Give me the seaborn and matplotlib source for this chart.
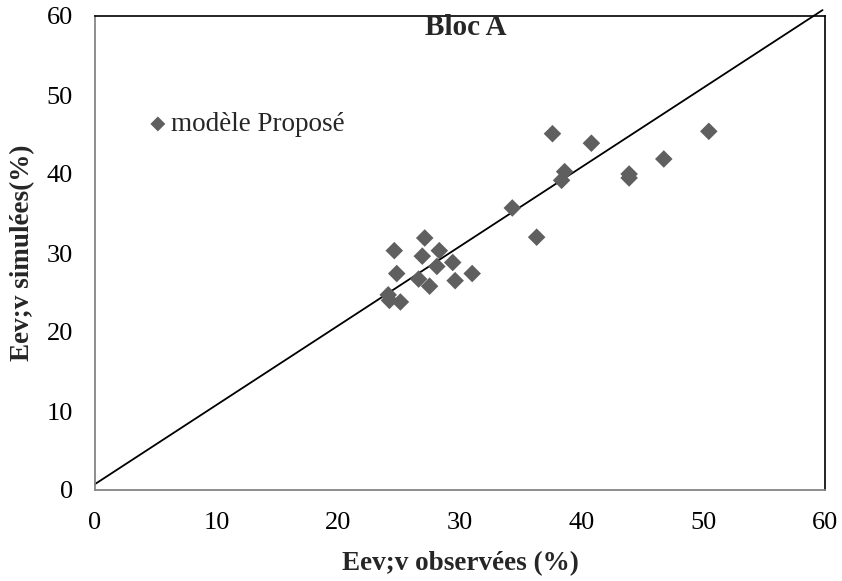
import matplotlib
matplotlib.use("Agg")
import matplotlib.pyplot as plt
import seaborn as sns
import pandas as pd

obs = [24.1, 24.2, 25.1, 24.6, 24.8, 26.6, 26.9, 27.1, 27.5, 28.1, 28.3, 29.4,
       29.6, 31.0, 34.3, 36.3, 37.6, 38.35, 38.6, 40.8, 43.9, 43.9, 46.75, 50.45]
sim = [24.7, 24.0, 23.8, 30.3, 27.4, 26.7, 29.6, 31.9, 25.8, 28.3, 30.3, 28.8,
       26.5, 27.4, 35.7, 32.0, 45.1, 39.2, 40.3, 43.9, 39.5, 40.0, 41.9, 45.4]
line_x = [0, 59.8]
line_y = [0.75, 60.75]
xticks = [0, 10, 20, 30, 40, 50, 60]
yticks = [0, 10, 20, 30, 40, 50, 60]

sns.set_style("white")
plt.rcParams['font.family'] = ['Liberation Serif', 'DejaVu Serif']

df = pd.DataFrame({"obs": obs, "sim": sim})

fig = plt.figure(figsize=(8.42, 5.81), dpi=100)
ax = fig.add_axes([95/842, 91/581, 730/842, 474/581])

sns.lineplot(x=line_x, y=line_y, ax=ax, color="black", linewidth=1.3, zorder=2)
for l in ax.lines:
    l.set_clip_on(False)
sns.scatterplot(data=df, x="obs", y="sim", ax=ax, marker="D", s=80,
                color="#5f5f5f", edgecolor="none", zorder=3, label="modèle Proposé",
                clip_on=False)

ax.set_xlim(0, 60)
ax.set_ylim(0, 60)
ax.set_xticks(xticks)
ax.set_yticks(yticks)
ax.tick_params(axis="both", labelsize=19, colors="black", length=5, width=1.2,
               direction="out", color="#868686")
ax.tick_params(axis="x", pad=11)
ax.tick_params(axis="y", pad=11)

for side in ["left", "bottom"]:
    ax.spines[side].set_color("#868686")
    ax.spines[side].set_linewidth(1.3)
for side in ["top", "right"]:
    ax.spines[side].set_color("black")
    ax.spines[side].set_linewidth(1.2)

ax.set_xlabel("Eev;v observées (%)", fontsize=19.5, fontweight="bold", labelpad=12.5)
ax.set_ylabel("Eev;v simulées(%)", fontsize=19.5, fontweight="bold", labelpad=8)
ax.text((466 - 95) / 730, 1.005, "Bloc A", transform=ax.transAxes, ha="center", va="top",
        fontsize=21, fontweight="bold")

leg = ax.legend(loc="center left", bbox_to_anchor=(0.049, 0.771), frameon=False,
                fontsize=19.5, handletextpad=-0.53, markerscale=0.85, borderaxespad=0,
                borderpad=0)

fig.savefig("out.png", dpi=100)
